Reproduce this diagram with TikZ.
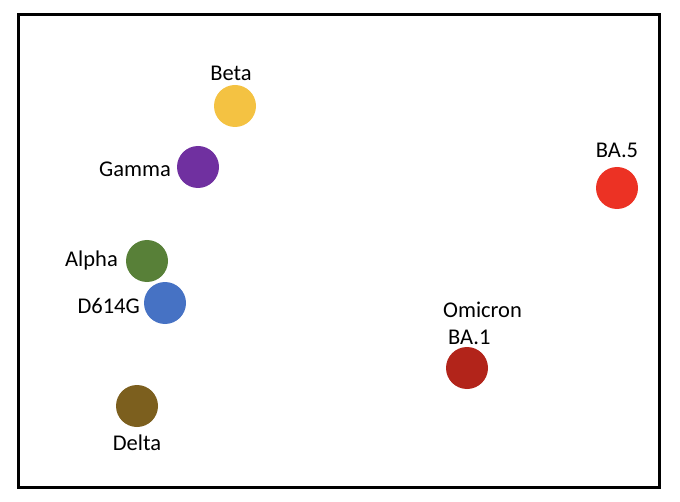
\documentclass[tikz,border=0pt]{standalone}
\usepackage{fontspec}
\setmainfont{Carlito}
\definecolor{betacol}{RGB}{244,194,66}
\definecolor{gammacol}{RGB}{112,48,160}
\definecolor{alphacol}{RGB}{88,128,56}
\definecolor{dcol}{RGB}{70,114,196}
\definecolor{deltacol}{RGB}{124,95,30}
\definecolor{bafcol}{RGB}{178,36,26}
\definecolor{bavcol}{RGB}{236,50,36}
\begin{document}
\begin{tikzpicture}[
    x = 1bp, y = -1bp,
    strain/.style = {circle, minimum size = 42bp, inner sep = 0pt},
    strainlbl/.style = {inner sep = 0pt, font = \fontsize{22.5bp}{27bp}\selectfont}]

\useasboundingbox (0,0) rectangle (680,502);
\draw[line width = 3bp] (18,15) rectangle (659,487);

\path (235,106) node[strain, fill = betacol] (beta) {}
      (198,167) node[strain, fill = gammacol] (gamma) {}
      (147,261) node[strain, fill = alphacol] (alpha) {}
      (165,303) node[strain, fill = dcol] (d614g) {}
      (137,406) node[strain, fill = deltacol] (delta) {}
      (467,368) node[strain, fill = bafcol] (ba1) {}
      (617,188) node[strain, fill = bavcol] (ba5) {};

\path (231,81) node[strainlbl, anchor = base] (betalbl) {Beta}
      (171,177) node[strainlbl, anchor = base east] (gammalbl) {Gamma}
      (118,267) node[strainlbl, anchor = base east] (alphalbl) {Alpha}
      (140,313) node[strainlbl, anchor = base east] (d614glbl) {D614G}
      (137,450) node[strainlbl, anchor = base] (deltalbl) {Delta}
      (443,344) node[strainlbl, anchor = base west, align = left] (ba1lbl) {Omicron\\\hspace*{5bp}BA.1}
      (617,158) node[strainlbl, anchor = base] (ba5lbl) {BA.5};
\end{tikzpicture}
\end{document}
